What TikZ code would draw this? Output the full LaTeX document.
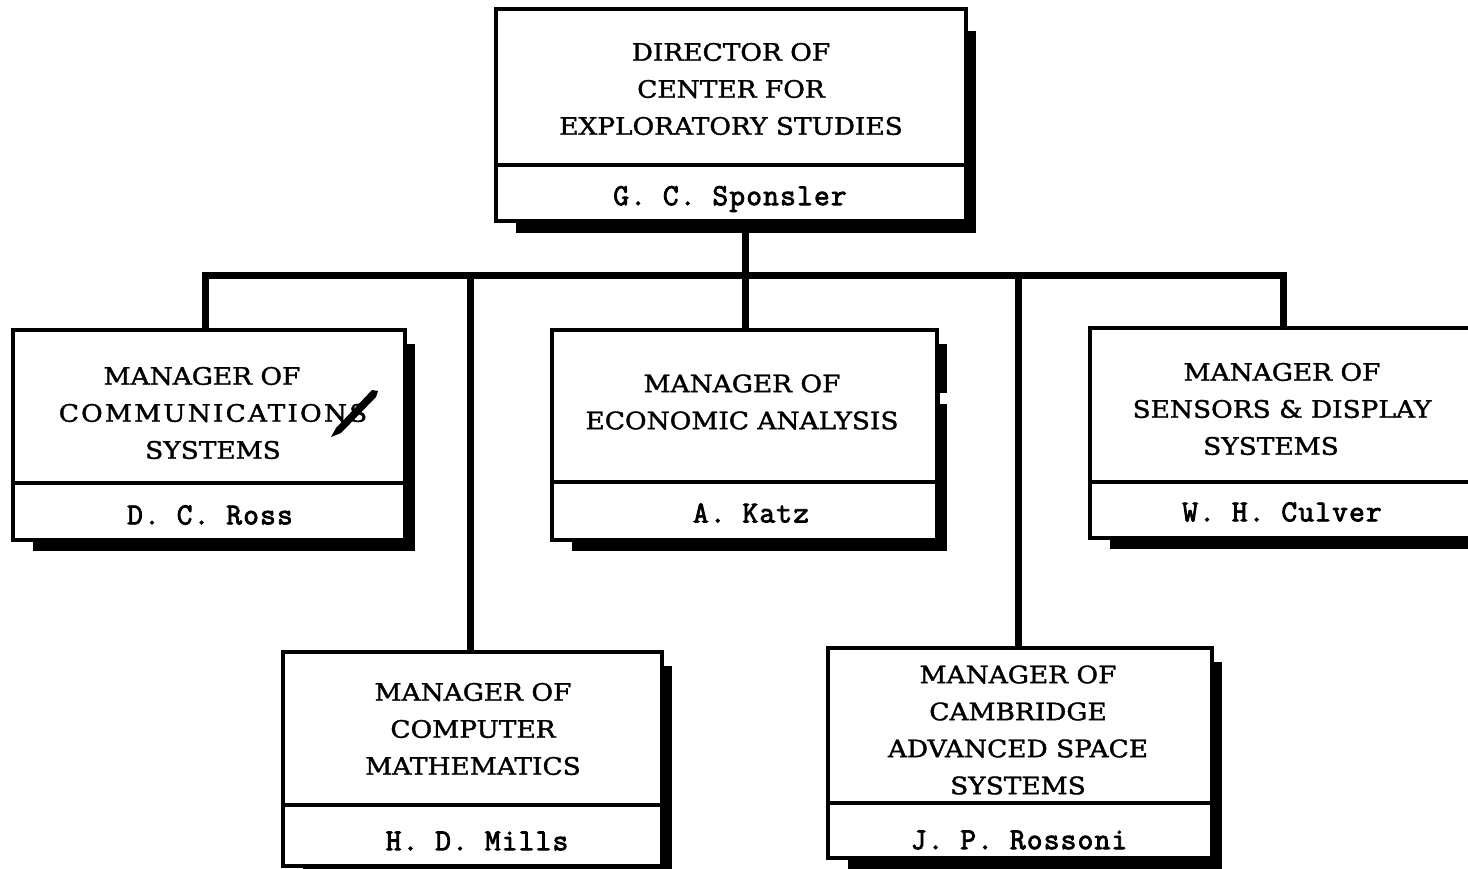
\documentclass[tikz,border=0pt]{standalone}
\usepackage{fontspec}
\newfontfamily\titlefont[FakeStretch=1.1, FakeBold=1.5]{DejaVu Serif}
\newfontfamily\namefont[FakeBold=2.8, LetterSpace=4]{Latin Modern Mono}
\usetikzlibrary{calc}

\tikzset{
  boxframe/.style={draw=black, line width=4.5pt, fill=white, rectangle,
    inner sep=0pt, outer sep=0pt},
  divider/.style={line width=4.5pt},
  conn/.style={line width=7pt, line join=miter, line cap=butt},
  titletext/.style={align=center, inner sep=0pt,
    font=\titlefont\fontsize{24}{37}\selectfont},
  nametext/.style={inner sep=0pt, font=\namefont\fontsize{30.5}{32}\selectfont},
}

% #1 node name, #2 left, #3 top, #4 right, #5 bottom, #6 height of divider
\newcommand\orgbox[6]{%
  \fill ({#2+20},{#3+14}) rectangle ({#4+10},{#5+11});
  \node[boxframe, minimum width={#4-#2}, minimum height={#5-#3}]
    (#1) at ({(#2+#4)/2},{(#3+#5)/2}) {};
  \draw[divider] (#2,#6) -- (#4,#6);
}

\begin{document}
\begin{tikzpicture}[x=1pt, y=-1pt]
  \clip (0,0) rectangle (1468,869);
  \fill[white] (0,0) rectangle (1468,869);

  % junctions on the horizontal distribution bar
  \coordinate (jl) at (205,276);
  \coordinate (jr) at (1283,276);
  \coordinate (jm) at (745,276);
  \coordinate (jmills) at (470,276);
  \coordinate (jcam) at (1018,276);

  % boxes with drop shadows
  \fill ({496+20},{9+22}) rectangle ({966+10},{221+12});
  \node[boxframe, minimum width=470, minimum height=212] (dir) at (731,115) {};
  \draw[divider] (496,165) -- (966,165);

  \orgbox{comm}{13}{330}{405}{540}{483}
  \orgbox{econ}{552}{330}{937}{540}{482}
  \orgbox{sens}{1090}{328}{1478}{538}{482}
  \orgbox{mills}{283}{652}{662}{866}{805}
  \orgbox{cam}{828}{648}{1212}{858}{803}

  % gap in the shadow of the economic analysis box
  \fill[white] (940,393) rectangle (950,404);

  % reporting lines
  \draw[conn] (jl |- comm.north) -- (jl) -- (jr) -- (jr |- sens.north);
  \draw[conn] (jm |- dir.south) -- (jm |- econ.north);
  \draw[conn] (jmills) -- (jmills |- mills.north);
  \draw[conn] (jcam) -- (jcam |- cam.north);

  % titles and names
  \node[titletext] (dir-t) at (731,89) {DIRECTOR OF\\CENTER FOR\\EXPLORATORY STUDIES};
  \node[nametext] (dir-n) at (730,199) {G. C. Sponsler};

  \node[titletext] (comm-t) at (213,413)
    {MANAGER OF\hspace*{22pt}\\{\addfontfeature{LetterSpace=9}COMMUNICATIONS}\\SYSTEMS};
  \node[nametext] (comm-n) at (210,515) {D. C. Ross};
  % pen stroke over the final letter
  \fill (331,437) -- (336,428) -- (372,390) -- (378,391) -- (376,397) -- (341,433) -- cycle;

  \node[titletext] (econ-t) at (742,402) {MANAGER OF\\ECONOMIC ANALYSIS};
  \node[nametext] (econ-n) at (751,513) {A. Katz};

  \node[titletext] (sens-t) at (1282,409)
    {MANAGER OF\\SENSORS \& DISPLAY\\SYSTEMS\hspace*{22pt}};
  \node[nametext] (sens-n) at (1282,512) {W. H. Culver};

  \node[titletext] (mills-t) at (473,729) {MANAGER OF\\COMPUTER\\MATHEMATICS};
  \node[nametext] (mills-n) at (477,841) {H. D. Mills};

  \node[titletext] (cam-t) at (1018,730) {MANAGER OF\\CAMBRIDGE\\ADVANCED SPACE\\SYSTEMS};
  \node[nametext] (cam-n) at (1019,840) {J. P. Rossoni};
\end{tikzpicture}
\end{document}
